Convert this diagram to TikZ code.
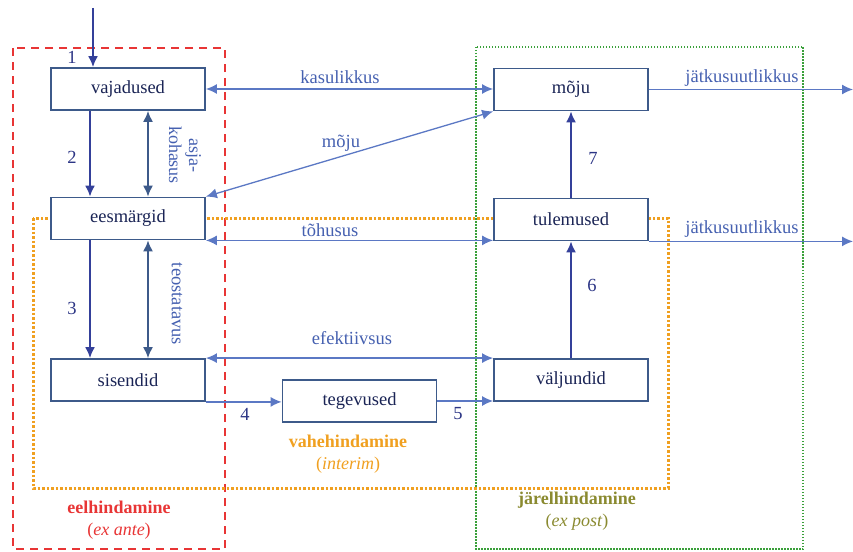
\documentclass[tikz,border=0pt]{standalone}
\usepackage{fontspec}
\setmainfont{Liberation Serif}
\usetikzlibrary{arrows.meta}
\definecolor{boxline}{HTML}{3D5A8A}
\definecolor{boxtext}{HTML}{1A2455}
\definecolor{darkarr}{HTML}{34409A}
\definecolor{lightarr}{HTML}{5B78C4}
\definecolor{lbl}{HTML}{4560B0}
\definecolor{numc}{HTML}{2C3585}
\definecolor{redf}{HTML}{E83535}
\definecolor{greenf}{HTML}{3AA03A}
\definecolor{orangef}{HTML}{F0A020}
\definecolor{olive}{HTML}{8A8A30}
\tikzset{
  stage/.style={draw=boxline, line width=1.8pt, fill=white, minimum width=154pt, minimum height=42pt, inner sep=0pt, text=boxtext},
  mainarr/.style={draw=darkarr, line width=1.8pt, -{Latex[length=11pt,width=10pt]}},
  thinarr/.style={draw=lightarr, line width=1.3pt, -{Latex[length=11pt,width=10pt]}},
  dblarr/.style={draw=lightarr, line width=1.3pt, {Latex[length=11pt,width=10pt]}-{Latex[length=11pt,width=10pt]}},
  vdbl/.style={draw=boxline, line width=1.6pt, {Latex[length=11pt,width=10pt]}-{Latex[length=11pt,width=10pt]}},
  lab/.style={text=lbl, inner sep=1pt},
  num/.style={text=numc, inner sep=1pt},
  frametxt/.style={font=\bfseries\fontsize{18}{20}\selectfont, inner sep=1pt, align=center}
}
\begin{document}
\begin{tikzpicture}[x=1pt,y=-1pt,font=\fontsize{18.5}{20}\selectfont]
\useasboundingbox (0,0) rectangle (853,551);
% frames
\draw[redf, line width=2pt, dash pattern=on 8pt off 6pt] (13,48) rectangle (225,549);
\draw[greenf, line width=1.6pt, dash pattern=on 1.5pt off 1.5pt] (476,47) rectangle (803,549);
\draw[orangef, line width=3pt, dash pattern=on 2.5pt off 2pt] (33,218) rectangle (668,488);
% boxes
\node[stage] (vaj) at (128,89) {vajadused};
\node[stage] (ees) at (128,218.5) {eesmärgid};
\node[stage] (sis) at (128,380) {sisendid};
\node[stage] (teg) at (359.5,401) {tegevused};
\node[stage] (val) at (571,380) {väljundid};
\node[stage] (moju) at (571,89.5) {mõju};
\node[stage] (tul) at (571,219.5) {tulemused};
\coordinate (start) at (93,8);
\coordinate (r1) at (853,89.5);
% main chain
\draw[mainarr] (start) -- (start |- vaj.north);
\draw[mainarr] ([xshift=-38pt]vaj.south) -- ([xshift=-38pt]ees.north);
\draw[mainarr] ([xshift=-38pt]ees.south) -- ([xshift=-38pt]sis.north);
\draw[thinarr] (sis.south east) -- (sis.south east -| teg.west);
\draw[thinarr] (teg.east) -- (teg.east -| val.west);
\draw[mainarr] (val.north) -- (tul.south);
\draw[mainarr] (tul.north) -- (moju.south);
% vertical double arrows
\draw[vdbl] ([xshift=20pt]vaj.south) -- ([xshift=20pt]ees.north);
\draw[vdbl] ([xshift=20pt]ees.south) -- ([xshift=20pt]sis.north);
% horizontal relations
\draw[dblarr] (vaj.east) -- (vaj.east -| moju.west);
\draw[dblarr] (ees.north east) -- (moju.south west);
\draw[dblarr] (ees.south east) -- (ees.south east -| tul.west);
\draw[dblarr] (sis.north east) -- (sis.north east -| val.west);
\draw[thinarr] (moju.east) -- (r1);
\draw[thinarr] (tul.south east) -- (tul.south east -| r1);
% labels
\node[num] (n1) at (72,57) {1};
\node[num] (n2) at (72,157) {2};
\node[num] (n3) at (72,308) {3};
\node[num] (n4) at (245,414) {4};
\node[num] (n5) at (458,414) {5};
\node[num] (n6) at (592,285) {6};
\node[num] (n7) at (593,158) {7};
\node[lab] (l1) at (340,77) {kasulikkus};
\node[lab] (l2) at (341,143) {mõju};
\node[lab] (l3) at (330,230) {tõhusus};
\node[lab] (l4) at (352,338) {efektiivsus};
\node[lab] (l5) at (742,78) {jätkusuutlikkus};
\node[lab] (l6) at (742,229) {jätkusuutlikkus};
\node[lab, rotate=-90, align=center, font=\fontsize{18}{20}\selectfont] (l7) at (185,155) {asja-\\kohasus};
\node[lab, rotate=-90] (l8) at (177,304) {teostatavus};
% frame labels
\node[frametxt, text=orangef] (f1) at (348,454) {vahehindamine\\[2pt]\mdseries(\textit{interim})};
\node[frametxt, text=redf] (f2) at (119,520) {eelhindamine\\[2pt]\mdseries(\textit{ex ante})};
\node[frametxt, text=olive] (f3) at (577,511) {järelhindamine\\[2pt]\mdseries(\textit{ex post})};
\end{tikzpicture}
\end{document}
